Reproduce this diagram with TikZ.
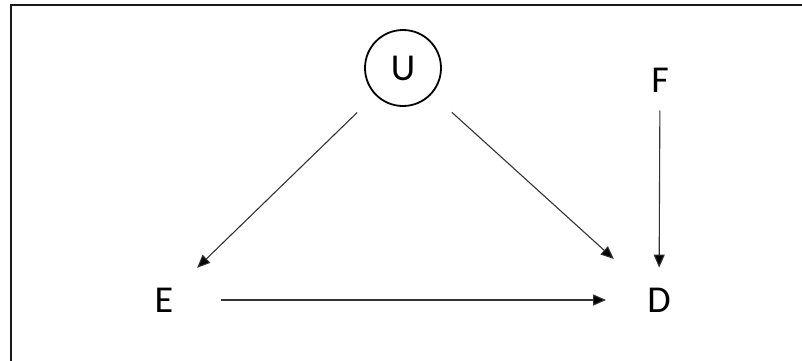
\documentclass[tikz,border=0pt]{standalone}
\usepackage{fontspec}
\setmainfont{Carlito}
\usetikzlibrary{arrows.meta}
\begin{document}
\begin{tikzpicture}[x=1pt,y=-1pt,
  lbl/.style={inner sep=0pt, font=\fontsize{38}{40}\selectfont},
  arr/.style={line width=1.1pt, draw=black!80, -{Triangle[length=13pt,width=11pt,fill=black]}}]
\useasboundingbox (0,0) rectangle (802,360);
\clip (0,0) rectangle (802,360);
\fill[white] (0,0) rectangle (802,360);
\draw[line width=2.2pt, draw=black!90] (11,5) rectangle (830,400);
\node[lbl, circle, draw, line width=1.8pt, minimum size=76pt] (U) at (403,68) {U};
\node[lbl] (F) at (660,80) {F};
\node[lbl] (E) at (164,300) {E};
\node[lbl] (D) at (659,300) {D};
\draw[arr, shorten <=25pt, shorten >=33pt] (U) -- (E);
\draw[arr, shorten <=27pt, shorten >=45pt] (U) -- (D);
\draw[arr, shorten <=18pt, shorten >=20pt] (F) -- (D);
\draw[arr, shorten <=48pt, shorten >=41pt] (E) -- (D);
\end{tikzpicture}
\end{document}
